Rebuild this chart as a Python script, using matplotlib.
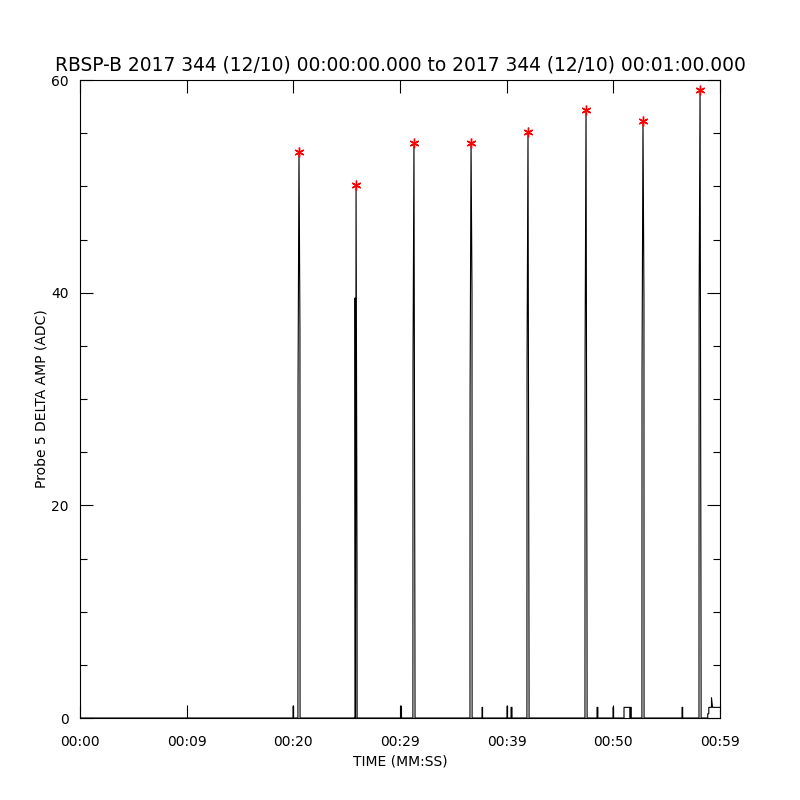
import numpy as np
import matplotlib
matplotlib.use("Agg")
from matplotlib import pyplot as plt

# spikes (seconds after 00:00), values in ADC
spike_t = [20.53, 25.88, 31.31, 36.66, 42.0, 47.44, 52.78, 58.13]
spike_rise = [31.0, 39.5, 33.5, 30.5, 33.5, 34.0, 32.4, 38.5]
spike_peak = [53.2, 50.1, 54.1, 54.1, 55.1, 57.2, 56.1, 59.1]
spike_fall = [36.5, 14.4, 7.4, 40.0, 9.0, 10.4, 39.4, 8.9]

# small blips near the baseline
blip_start = [19.97, 25.78, 30.09, 37.69, 40.03, 40.41, 48.47, 49.97, 51.0, 51.6, 56.44]
blip_end = [20.02, 25.83, 30.14, 37.74, 40.08, 40.5, 48.55, 50.02, 51.56, 51.68, 56.5]
blip_v = [1.1, 1.3, 1.1, 1.0, 1.1, 1.0, 1.0, 1.0, 1.0, 1.0, 1.0]

tail_t = [58.85, 58.85, 58.95, 58.95, 59.2, 59.2, 59.3, 60.0]
tail_v = [0.0, 0.4, 0.4, 1.0, 1.0, 1.9, 1.0, 1.0]

xtick_pos = [0, 10, 20, 30, 40, 50, 60]
xtick_lab = ["00:00", "00:09", "00:20", "00:29", "00:39", "00:50", "00:59"]

pts = [(0.0, 0.0)]
for t, r, p, f in zip(spike_t, spike_rise, spike_peak, spike_fall):
    pts += [(t - 0.1, 0.0), (t - 0.09, r), (t, p), (t + 0.09, f), (t + 0.1, 0.0)]
for s, e, v in zip(blip_start, blip_end, blip_v):
    pts += [(s, 0.0), (s + 0.001, v), (e, v), (e + 0.001, 0.0)]
pts.sort(key=lambda a: a[0])
pts += list(zip(tail_t, tail_v))
xs = [a[0] for a in pts]
ys = [a[1] for a in pts]

fig = plt.figure(figsize=(8, 8), dpi=100)
ax = fig.add_axes([0.1, 0.1025, 0.8, 0.7975])
ax.plot(xs, ys, color="black", lw=0.8)
ax.plot(spike_t, spike_peak, ls="none", marker=(6, 2, 0), color="red",
        markersize=7, markeredgewidth=1.0)

ax.set_xlim(0, 60)
ax.set_ylim(0, 60)
ax.set_xticks(xtick_pos)
ax.set_xticklabels(xtick_lab)
ax.set_yticks([0, 20, 40, 60])
ax.set_yticks(np.arange(0, 61, 5), minor=True)
ax.tick_params(which="both", direction="in", top=True, right=True, labelsize=10, pad=8)
ax.tick_params(axis="x", which="major", pad=12)
ax.tick_params(which="major", length=9.5, width=0.8)
ax.tick_params(which="minor", length=5, width=0.8)
for sp in ax.spines.values():
    sp.set_linewidth(0.8)

ax.set_xlabel("TIME (MM:SS)", fontsize=10, labelpad=4)
ax.set_ylabel("Probe 5 DELTA AMP (ADC)", fontsize=10, labelpad=2)
ax.set_title("RBSP-B 2017 344 (12/10) 00:00:00.000 to 2017 344 (12/10) 00:01:00.000",
             fontsize=13.4, pad=7)

fig.savefig("out.png", dpi=100)
